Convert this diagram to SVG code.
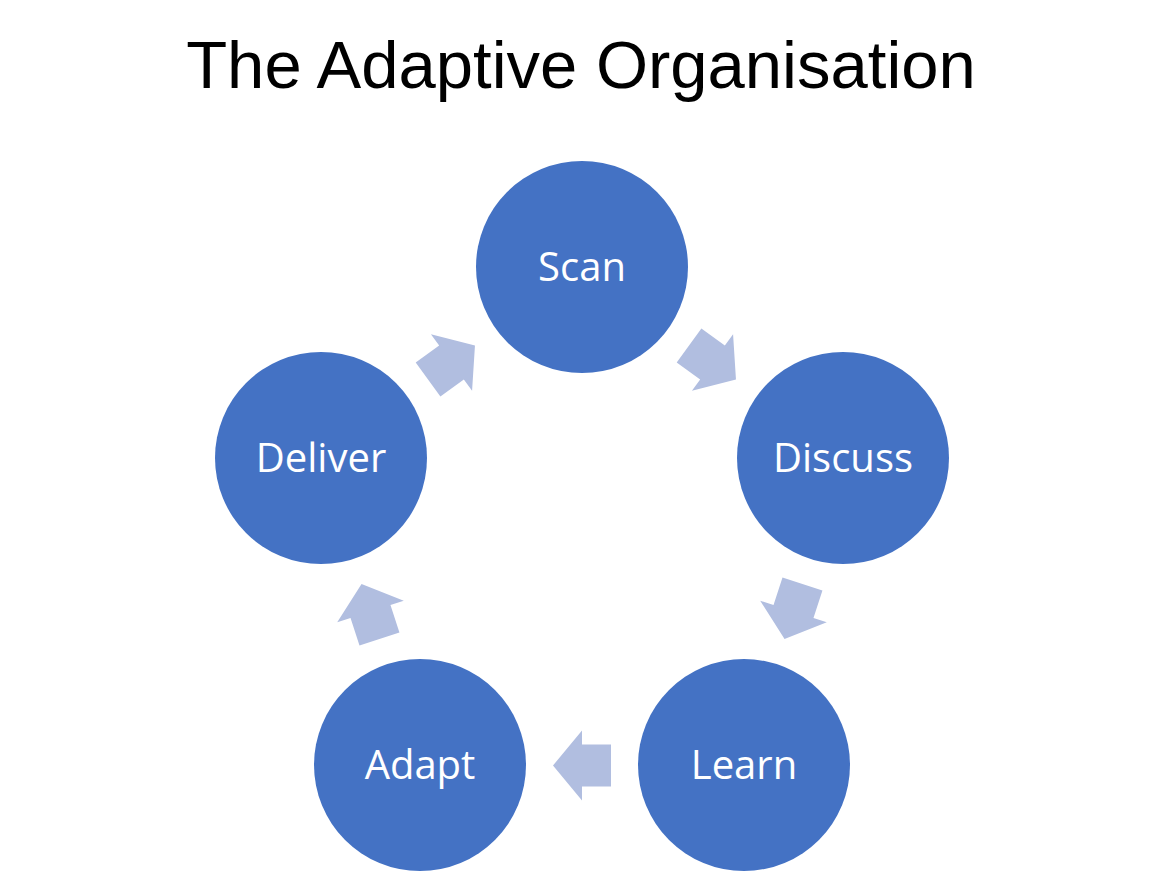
<svg xmlns="http://www.w3.org/2000/svg" xmlns:xlink="http://www.w3.org/1999/xlink" width="1164" height="874" viewBox="0 0 1164 874">
<style>
.title{font-family:"Liberation Sans",Arial,sans-serif;font-size:67px;fill:#000;text-anchor:middle}
.node{fill:#4472C4}
.lbl{font-family:"Open Sans","Noto Sans",sans-serif;font-size:40px;fill:#fff;text-anchor:middle}
.arr{fill:#B1BEE0}
</style>
<defs>
<path id="arrow" d="M-29,-21 L0,-21 L0,-35 L29,0 L0,35 L0,21 L-29,21 Z"/>
</defs>
<rect width="1164" height="874" fill="#fff"/>
<text class="title" x="581" y="88">The Adaptive Organisation</text>
<g id="connectors" class="arr">
<use xlink:href="#arrow" transform="translate(712.5,362.5) rotate(36)"/>
<use xlink:href="#arrow" transform="translate(793.5,611.5) rotate(108)"/>
<use xlink:href="#arrow" transform="translate(582,765.5) rotate(180)"/>
<use xlink:href="#arrow" transform="translate(370.5,611.5) rotate(252)"/>
<use xlink:href="#arrow" transform="translate(451.5,362.5) rotate(324)"/>
</g>
<g id="scan"><circle class="node" cx="582" cy="267" r="106"/><text class="lbl" x="582" y="281">Scan</text></g>
<g id="discuss"><circle class="node" cx="843" cy="458" r="106"/><text class="lbl" x="843" y="472">Discuss</text></g>
<g id="learn"><circle class="node" cx="744" cy="765" r="106"/><text class="lbl" x="744" y="779">Learn</text></g>
<g id="adapt"><circle class="node" cx="420" cy="765" r="106"/><text class="lbl" x="420" y="779">Adapt</text></g>
<g id="deliver"><circle class="node" cx="321" cy="458" r="106"/><text class="lbl" x="321" y="472">Deliver</text></g>
</svg>
